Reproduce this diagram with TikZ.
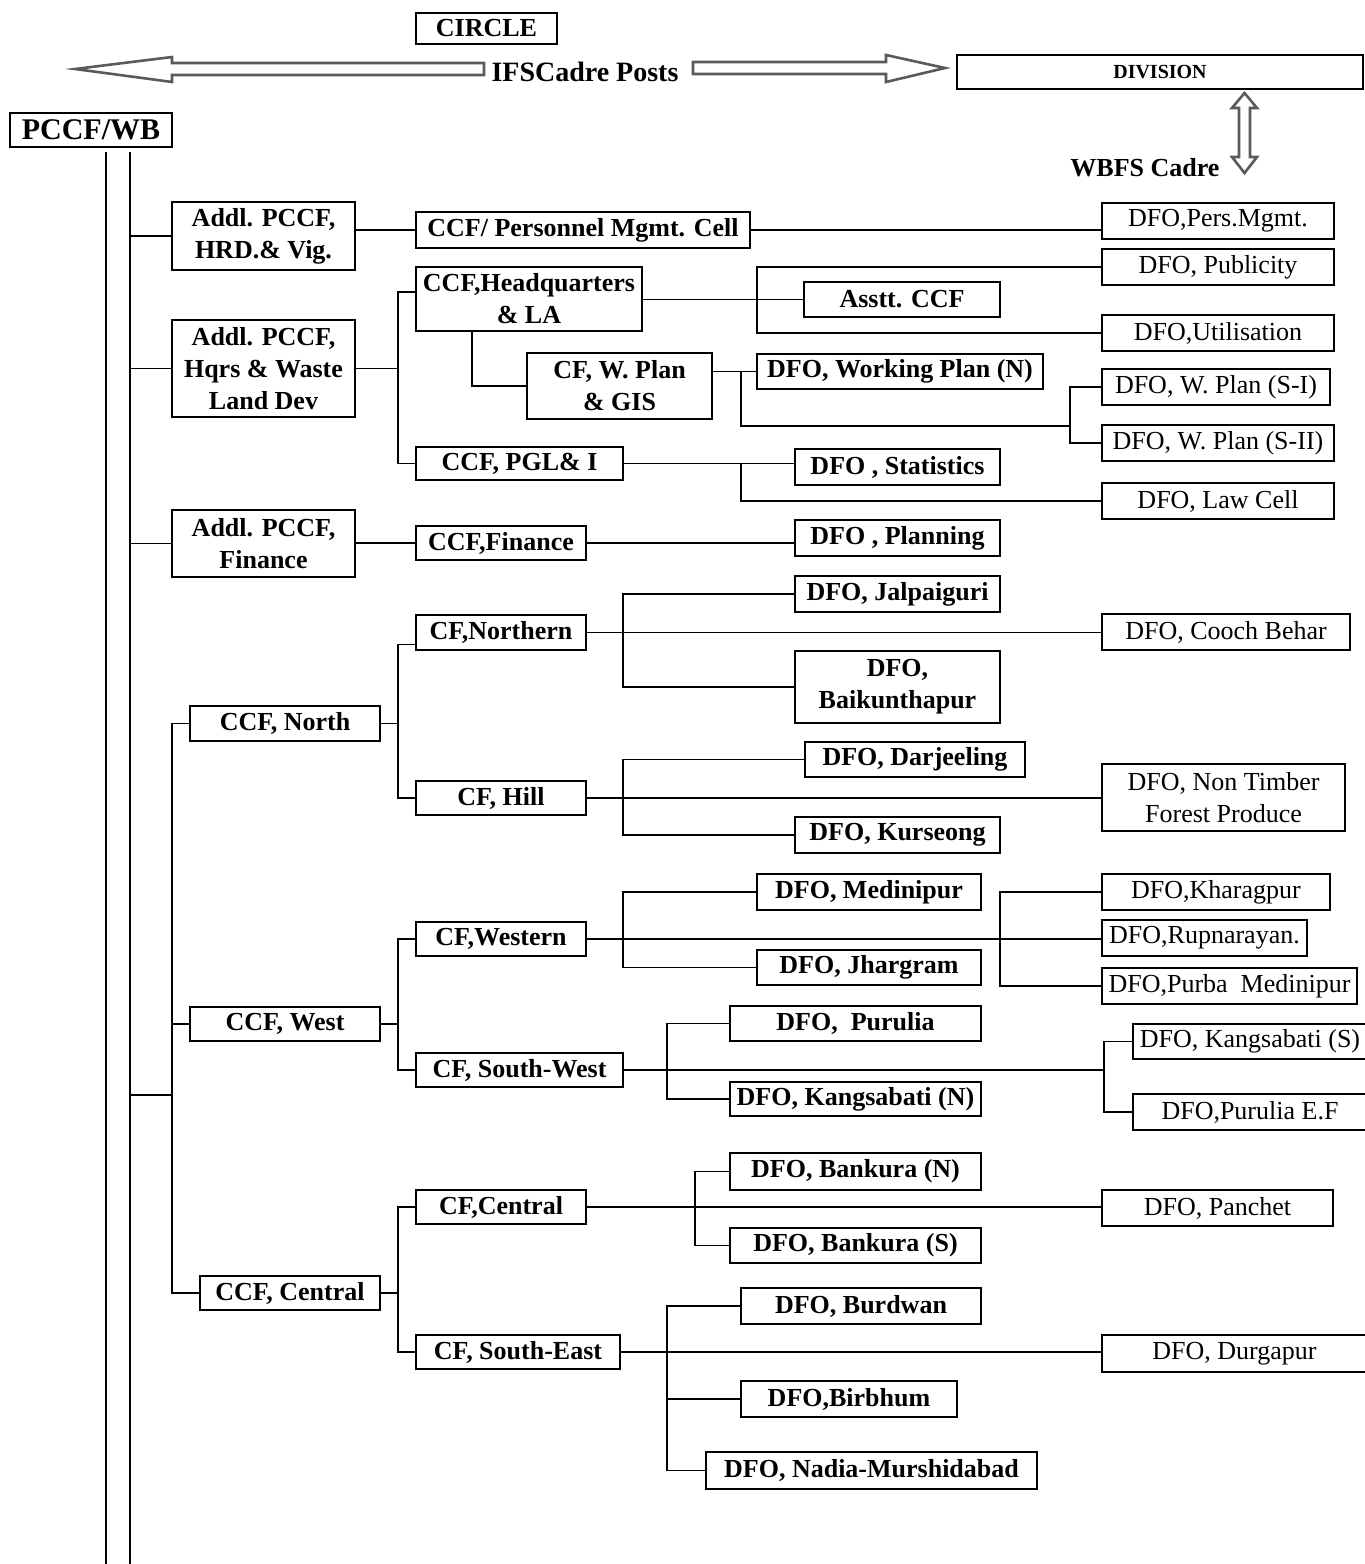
\documentclass[tikz,border=0pt]{standalone}
\usepackage{fontspec}
\setmainfont{Liberation Serif}
\usepackage{tikz}
\usetikzlibrary{calc}
\definecolor{ink}{HTML}{000000}
\definecolor{arrowgray}{HTML}{5A5A5A}
\tikzset{
    every picture/.style={line join=miter},
    boxsize/.style 2 args={minimum width=#1*0.5pt,minimum height=#2*0.5pt},
    post/.style={draw=ink,line width=1pt,inner sep=1pt,outer sep=0pt,
      align=center,font=\fontsize{13}{16}\selectfont\bfseries},
    divpost/.style={post,font=\fontsize{13}{16}\selectfont},
    link/.style={draw=ink,line width=0.95pt},
    hollowarrow/.style={draw=arrowgray,fill=white,line width=1.3pt},
    heading/.style={inner sep=0pt,font=\fontsize{14}{16}\selectfont\bfseries}
}

\begin{document}
\begin{tikzpicture}[x=0.5pt,y=-0.5pt]
  \useasboundingbox (0,0) rectangle (1365,1564);

  % cadre headings
  \node[post,boxsize={141}{31}] (circlebox) at (486.5,28.5) {CIRCLE};
  \node[heading] (ifs) at (585,72) {IFSCadre Posts};
  \node[post,boxsize={406}{34},font=\fontsize{10}{12}\selectfont\bfseries]
    (division) at (1160,72) {DIVISION};
  \node[heading,font=\fontsize{13}{16}\selectfont\bfseries] (wbfs) at (1145,168) {WBFS Cadre};
  \node[post,boxsize={162}{34},font=\fontsize{15}{18}\selectfont\bfseries]
    (pccf) at (91,130) {PCCF/WB};

  \draw[hollowarrow] (484,63) -- (172,63) -- (172,57) -- (75,69) -- (172,82)
    -- (172,75) -- (484,75) -- cycle;
  \draw[hollowarrow] (693,62) -- (886,62) -- (886,55) -- (945,68) -- (886,82)
    -- (886,74) -- (693,74) -- cycle;
  \draw[hollowarrow] (1244.5,93) -- (1257,108) -- (1250,108) -- (1250,157)
    -- (1257,157) -- (1244.5,173) -- (1232,157) -- (1239,157) -- (1239,108)
    -- (1232,108) -- cycle;

  % Addl. PCCF and CCF
  \node[post,boxsize={183}{68}] (addlhrd) at (263.5,236) {Addl. PCCF,\\HRD.\& Vig.};
  \node[post,boxsize={183}{97}] (addlhq) at (263.5,368.5) {Addl. PCCF,\\Hqrs \& Waste\\Land Dev};
  \node[post,boxsize={183}{67}] (addlfin) at (263.5,543.5) {Addl. PCCF,\\Finance};
  \node[post,boxsize={190}{35}] (ccfnorth) at (285,723.5) {CCF, North};
  \node[post,boxsize={190}{34}] (ccfwest) at (285,1024) {CCF, West};
  \node[post,boxsize={180}{34}] (ccfcentral) at (290,1293) {CCF, Central};

  % circles
  \node[post,boxsize={334}{36}] (ccfpers) at (583,230) {CCF/ Personnel Mgmt. Cell};
  \node[post,boxsize={226}{64}] (ccfhq) at (529,299) {CCF,Headquarters\\\& LA};
  \node[post,boxsize={185}{66}] (cfwplan) at (619.5,386) {CF, W. Plan\\\& GIS};
  \node[post,boxsize={207}{33}] (ccfpgl) at (519.5,463.5) {CCF, PGL\& I};
  \node[post,boxsize={170}{34}] (ccffin) at (501,543) {CCF,Finance};
  \node[post,boxsize={170}{35}] (cfnorthern) at (501,632.5) {CF,Northern};
  \node[post,boxsize={170}{34}] (cfhill) at (501,798) {CF, Hill};
  \node[post,boxsize={170}{34}] (cfwestern) at (501,939) {CF,Western};
  \node[post,boxsize={207}{34}] (cfsouthwest) at (519.5,1070) {CF, South-West};
  \node[post,boxsize={170}{34}] (cfcentral) at (501,1207) {CF,Central};
  \node[post,boxsize={204}{34}] (cfsoutheast) at (518,1352) {CF, South-East};

  % IFS divisions
  \node[post,boxsize={196}{35}] (asstt) at (902,299.5) {Asstt. CCF};
  \node[post,boxsize={286}{35}] (dfowpn) at (900,371.5) {DFO, Working Plan (N)};
  \node[post,boxsize={205}{36}] (dfostat) at (897.5,467) {DFO , Statistics};
  \node[post,boxsize={205}{36}] (dfoplan) at (897.5,538) {DFO , Planning};
  \node[post,boxsize={205}{36}] (dfojal) at (897.5,594) {DFO, Jalpaiguri};
  \node[post,boxsize={205}{72}] (dfobaik) at (897.5,687) {DFO,\\Baikunthapur};
  \node[post,boxsize={220}{35}] (dfodarj) at (915,759.5) {DFO, Darjeeling};
  \node[post,boxsize={205}{36}] (dfokurs) at (897.5,835) {DFO, Kurseong};
  \node[post,boxsize={224}{36}] (dfomedi) at (869,892) {DFO, Medinipur};
  \node[post,boxsize={224}{35}] (dfojhar) at (869,967.5) {DFO, Jhargram};
  \node[post,boxsize={251}{35}] (dfopuru) at (855.5,1023.5) {DFO,\ \ Purulia};
  \node[post,boxsize={251}{34}] (dfokangn) at (855.5,1099) {DFO, Kangsabati (N)};
  \node[post,boxsize={251}{37}] (dfobankn) at (855.5,1171.5) {DFO, Bankura (N)};
  \node[post,boxsize={251}{35}] (dfobanks) at (855.5,1245.5) {DFO, Bankura (S)};
  \node[post,boxsize={240}{36}] (dfoburd) at (861,1306) {DFO, Burdwan};
  \node[post,boxsize={216}{36}] (dfobirb) at (849,1399) {DFO,Birbhum};
  \node[post,boxsize={331}{37}] (dfonadia) at (871.5,1470.5) {DFO, Nadia-Murshidabad};

  % WBFS divisions
  \node[divpost,boxsize={232}{36}] (dfopers) at (1218,221) {DFO,Pers.Mgmt.};
  \node[divpost,boxsize={232}{36}] (dfopub) at (1218,267) {DFO, Publicity};
  \node[divpost,boxsize={232}{36}] (dfoutil) at (1218,333) {DFO,Utilisation};
  \node[divpost,boxsize={228}{36}] (dfowps1) at (1216,387) {DFO, W. Plan (S-I)};
  \node[divpost,boxsize={232}{36}] (dfowps2) at (1218,443) {DFO, W. Plan (S-II)};
  \node[divpost,boxsize={232}{36}] (dfolaw) at (1218,501) {DFO, Law Cell};
  \node[divpost,boxsize={248}{36}] (dfocooch) at (1226,632) {DFO, Cooch Behar};
  \node[divpost,boxsize={243}{67}] (dfontfp) at (1223.5,797.5) {DFO, Non Timber\\Forest Produce};
  \node[divpost,boxsize={228}{36}] (dfokhar) at (1216,892) {DFO,Kharagpur};
  \node[divpost,boxsize={205}{36}] (dforup) at (1204.5,938) {DFO,Rupnarayan.};
  \node[divpost,boxsize={255}{36}] (dfopurba) at (1229.5,986) {DFO,Purba\ \ Medinipur};
  \node[divpost,boxsize={234}{35}] (dfokangs) at (1250,1041.5) {DFO, Kangsabati (S)};
  \node[divpost,boxsize={234}{36}] (dfopef) at (1250,1112) {DFO,Purulia E.F};
  \node[divpost,boxsize={231}{36}] (dfopanchet) at (1217.5,1208) {DFO, Panchet};
  \node[divpost,boxsize={265}{37}] (dfodurg) at (1234.5,1353.5) {DFO, Durgapur};

  % fork lines
  \coordinate (trunka) at (106,1564);
  \coordinate (trunkb) at (130,1564);
  \coordinate (trunktop) at ([yshift=-2.5pt]pccf.south);
  \coordinate (trunk) at (172,1095);
  \coordinate (xone) at (398,0);
  \coordinate (xhq) at (757,0);
  \coordinate (xwp) at (741,0);
  \coordinate (wpjoin) at (1070,426);
  \coordinate (xn) at (623,0);
  \coordinate (xmw) at (1000,0);
  \coordinate (xsw) at (667,0);
  \coordinate (xsws) at (1104,0);
  \coordinate (xc) at (695,0);

  \draw[link,line width=1.1pt] (trunktop -| trunka) -- (trunka);
  \draw[link,line width=1.1pt] (trunktop -| trunkb) -- (trunkb);
  \draw[link] (addlhrd.west -| trunkb) -- (addlhrd.west);
  \draw[link] (addlhq.west -| trunkb) -- (addlhq.west);
  \draw[link] (addlfin.west -| trunkb) -- (addlfin.west);
  \draw[link] (trunk -| trunkb) -- (trunk);
  \draw[link] (ccfnorth.west) -| (trunk) |- (ccfcentral.west);
  \draw[link] (ccfwest.west) -- (ccfwest.west -| trunk);

  % HRD & Vig.
  \draw[link] (ccfpers.west -| addlhrd.east) -- (ccfpers.west);
  \draw[link] (ccfpers.east) -- (ccfpers.east -| dfopers.west);

  % Hqrs & Waste Land Dev
  \draw[link] (addlhq.east) -- (addlhq.east -| xone);
  \draw[link] ([yshift=3.5pt]ccfhq.west) -| (addlhq.east -| xone) |- (ccfpgl.west);
  \draw[link] ([xshift=-28.5pt]ccfhq.south) |- (cfwplan.west);
  \draw[link] (asstt.west -| ccfhq.east) -- (asstt.west);
  \draw[link] (dfopub.west) -| (ccfhq.east -| xhq) |- (dfoutil.west);
  \draw[link] (dfowpn.west -| cfwplan.east) -- (dfowpn.west);
  \draw[link] (dfowpn.west -| xwp) |- (wpjoin);
  \draw[link] (dfowps1.west) -| (wpjoin) |- (dfowps2.west);
  \draw[link] (ccfpgl.east) -- (ccfpgl.east -| dfostat.west);
  \draw[link] (ccfpgl.east -| xwp) |- (dfolaw.west);

  % Finance
  \draw[link] (ccffin.west -| addlfin.east) -- (ccffin.west);
  \draw[link] (ccffin.east) -- (ccffin.east -| dfoplan.west);

  % North
  \draw[link] (ccfnorth.east) -- (ccfnorth.east -| xone);
  \draw[link] ([yshift=-6pt]cfnorthern.west) -| (ccfnorth.east -| xone) |- (cfhill.west);
  \draw[link] (cfnorthern.east) -- (cfnorthern.east -| dfocooch.west);
  \draw[link] (dfojal.west) -| (cfnorthern.east -| xn) |- (dfobaik.west);
  \draw[link] (cfhill.east) -- (cfhill.east -| dfontfp.west);
  \draw[link] (dfodarj.west) -| (cfhill.east -| xn) |- (dfokurs.west);

  % West
  \draw[link] (ccfwest.east) -- (ccfwest.east -| xone);
  \draw[link] (cfwestern.west) -| (ccfwest.east -| xone) |- (cfsouthwest.west);
  \draw[link] (cfwestern.east) -- (cfwestern.east -| dforup.west);
  \draw[link] (dfomedi.west) -| (cfwestern.east -| xn) |- (dfojhar.west);
  \draw[link] (dfokhar.west) -| (cfwestern.east -| xmw) |- (dfopurba.west);
  \draw[link] (cfsouthwest.east) -- (cfsouthwest.east -| xsws);
  \draw[link] (dfopuru.west) -| (cfsouthwest.east -| xsw) |- (dfokangn.west);
  \draw[link] (dfokangs.west) -| (cfsouthwest.east -| xsws) |- (dfopef.west);

  % Central
  \draw[link] (ccfcentral.east) -- (ccfcentral.east -| xone);
  \draw[link] (cfcentral.west) -| (ccfcentral.east -| xone) |- (cfsoutheast.west);
  \draw[link] (cfcentral.east) -- (cfcentral.east -| dfopanchet.west);
  \draw[link] (dfobankn.west) -| (cfcentral.east -| xc) |- (dfobanks.west);
  \draw[link] (cfsoutheast.east) -- (cfsoutheast.east -| dfodurg.west);
  \draw[link] (dfoburd.west) -| (cfsoutheast.east -| xsw) |- (dfonadia.west);
  \draw[link] (dfobirb.west) -- (dfobirb.west -| xsw);
\end{tikzpicture}
\end{document}
